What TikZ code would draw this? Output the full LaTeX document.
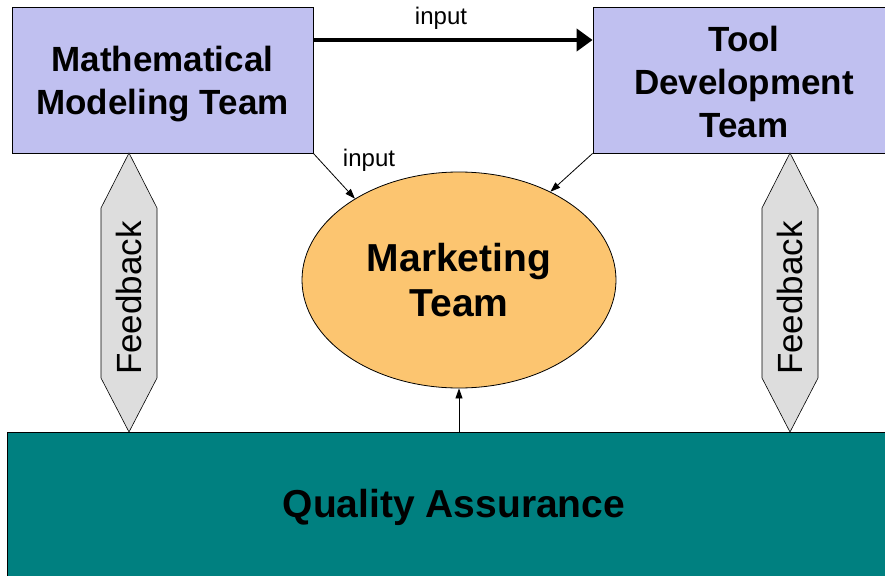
\documentclass[tikz,border=0pt]{standalone}
\usepackage{fontspec}
\setmainfont{Liberation Sans}
\usetikzlibrary{shapes.geometric,arrows.meta}
\definecolor{boxblue}{HTML}{C0C0F0}
\definecolor{mkorange}{HTML}{FCC570}
\definecolor{qateal}{HTML}{008080}
\definecolor{fbgray}{HTML}{DDDDDD}
\begin{document}
\begin{tikzpicture}[x=1pt,y=-1pt, every node/.style={inner sep=0pt},
  teambox/.style={draw=black, line width=0.8pt, fill=boxblue, minimum height=146pt, align=center, font=\bfseries\fontsize{35}{43}\selectfont},
  mkshape/.style={ellipse, draw=black, line width=0.8pt, fill=mkorange, minimum width=314pt, minimum height=216pt, align=center, font=\bfseries\fontsize{39}{45}\selectfont},
  qashape/.style={draw=black, line width=0.8pt, fill=qateal, minimum width=894pt, minimum height=150pt, font=\bfseries\fontsize{39}{44}\selectfont},
  fbshape/.style={draw=black, line width=0.6pt, fill=fbgray},
  fbtext/.style={rotate=90, font=\fontsize{35}{40}\selectfont},
  bigarrow/.style={line width=4.5pt, -{Triangle[length=16pt,width=22pt]}},
  smallarrow/.style={line width=0.8pt, -{Triangle[length=10pt,width=7pt]}},
  lbl/.style={font=\fontsize{24}{28}\selectfont}]
\useasboundingbox (0,0) rectangle (885,575);
\clip (0,0) rectangle (885,575);
% boxes
\node[teambox, minimum width=301pt] (mm) at (162.5,80) {\rule{0pt}{34pt}Mathematical\\Modeling Team};
\node[teambox, minimum width=302pt] (td) at (744,80) {\rule{0pt}{30pt}Tool\\Development\\Team};
\node[qashape] (qa) at (454,507) {Quality Assurance};
\node[mkshape] (mk) at (459,280) {Marketing\\Team};
% feedback hexagons
\draw[fbshape] (129,153) -- (157,208) -- (157,378) -- (129,432) -- (101,378) -- (101,208) -- cycle;
\node[fbtext] (fbl) at (129,298) {Feedback};
\draw[fbshape] (790,153) -- (818,208) -- (818,378) -- (790,432) -- (762,378) -- (762,208) -- cycle;
\node[fbtext] (fbr) at (790,298) {Feedback};
% arrows
\coordinate (ty) at (0,40);
\draw[bigarrow] (mm.east |- ty) -- (td.west |- ty);
\node[lbl] (in1) at (441,18) {input};
\draw[smallarrow] (mm.south east) -- (mk.142);
\node[lbl] (in2) at (369,160) {input};
\draw[smallarrow] (td.south west) -- (mk.44);
\draw[smallarrow] (mk.south |- qa.north) -- (mk.south);
\end{tikzpicture}
\end{document}
